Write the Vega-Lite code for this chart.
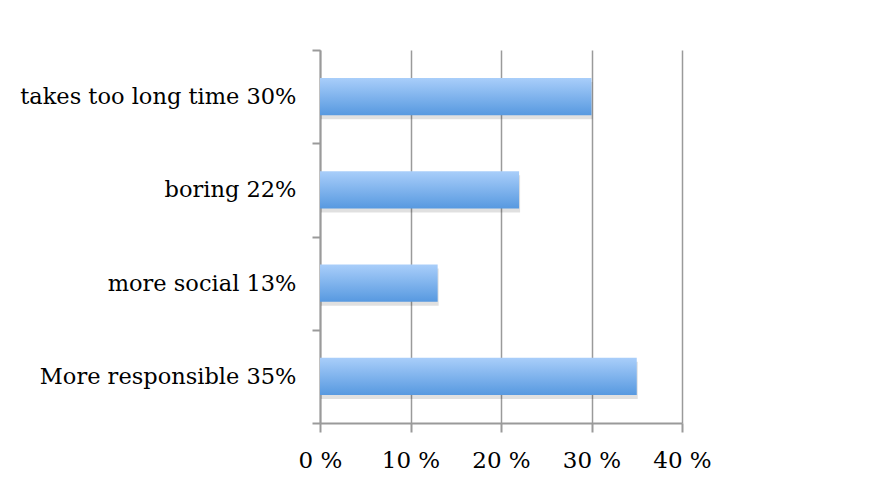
{
  "$schema": "https://vega.github.io/schema/vega-lite/v6.json",
  "width": 362,
  "height": 373,
  "autosize": "none",
  "padding": {"left": 320, "top": 50, "right": 199, "bottom": 59},
  "background": "white",
  "config": {"view": {"stroke": null}, "font": "DejaVu Serif"},
  "data": {
    "values": [
      {"label": "takes too long time 30%", "value": 30},
      {"label": "boring 22%", "value": 22},
      {"label": "more social 13%", "value": 13},
      {"label": "More responsible 35%", "value": 35}
    ]
  },
  "encoding": {
    "y": {
      "field": "label",
      "type": "nominal",
      "sort": ["takes too long time 30%", "boring 22%", "more social 13%", "More responsible 35%"],
      "scale": {"paddingInner": 0, "paddingOuter": 0},
      "axis": {
        "title": null,
        "domainColor": "#9a9a9a",
        "domainWidth": 2,
        "tickColor": "#9a9a9a",
        "tickWidth": 2,
        "tickSize": 8,
        "tickBand": "extent",
        "labelFont": "DejaVu Serif",
        "labelFontSize": 22.5,
        "labelColor": "#000000",
        "labelPadding": 16,
        "labelLimit": 400
      }
    },
    "x": {
      "field": "value",
      "type": "quantitative",
      "scale": {"domain": [0, 40], "nice": false},
      "axis": {
        "title": null,
        "values": [0, 10, 20, 30, 40],
        "labelExpr": "datum.value + ' %'",
        "labelFlush": false,
        "labelOverlap": false,
        "grid": true,
        "gridColor": "#9a9a9a",
        "gridWidth": 1.5,
        "domainColor": "#9a9a9a",
        "domainWidth": 2,
        "tickColor": "#9a9a9a",
        "tickWidth": 2,
        "tickSize": 9,
        "labelFont": "DejaVu Serif",
        "labelFontSize": 23,
        "labelColor": "#000000",
        "labelPadding": 17
      }
    }
  },
  "layer": [
    {
      "mark": {"type": "bar", "height": {"band": 0.4}, "yOffset": 4, "xOffset": 1, "color": "#000000", "opacity": 0.12}
    },
    {
      "mark": {
        "type": "bar",
        "height": {"band": 0.4},
        "color": {
          "gradient": "linear",
          "x1": 0, "y1": 0, "x2": 0, "y2": 1,
          "stops": [
            {"offset": 0, "color": "#a9cefa"},
            {"offset": 1, "color": "#5799e0"}
          ]
        }
      }
    }
  ]
}
